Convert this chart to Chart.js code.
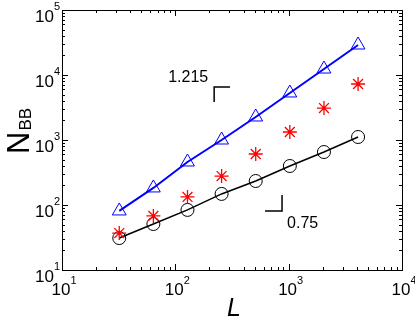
<!DOCTYPE html>
<html>
<head>
<meta charset="utf-8">
<script src="https://cdn.jsdelivr.net/npm/chart.js@4"></script>
<style>
  body { margin: 0; background: #fff; }
  #chart { display: block; }
</style>
</head>
<body>
<canvas id="chart" width="415" height="317"></canvas>
<script>
// Data
const L = [32, 64, 128, 256, 512, 1024, 2048, 4096];
const nTriangle = [81, 183, 459, 1000, 2260, 5290, 12360, 28950];
const nStar = [37, 68, 133, 279, 609, 1327, 3100, 7270];
const nCircle = [31, 51, 84, 148, 234, 398, 653, 1112];

const xDecades = [1, 2, 3, 4];
const yDecades = [1, 2, 3, 4, 5];

// slope guides (data coords)
const slopeUpX = [220, 220, 304];
const slopeUpY = [3840, 6530, 6530];
const slopeLowX = [619, 874, 874];
const slopeLowY = [81, 81, 143];
const slopeTexts = ['1.215', '0.75'];
const slopeTextX = [195, 968];
const slopeTextY = [9000, 51];

const FONT = "'Liberation Sans', Arial, sans-serif";

function pts(xs, ys) {
    return xs.map((x, i) => ({ x: x, y: ys[i] }));
}

// axes box, inward ticks, labels
const axesPlugin = {
    id: 'axesPlugin',
    afterDraw(chart) {
        const ctx = chart.ctx;
        const a = chart.chartArea;
        const xs = chart.scales.x, ys = chart.scales.y;
        ctx.save();
        ctx.strokeStyle = '#000';
        ctx.lineWidth = 1;
        ctx.strokeRect(a.left + 0.5, a.top + 0.5, a.right - a.left, a.bottom - a.top);

        ctx.beginPath();
        for (let d = xDecades[0]; d <= xDecades[xDecades.length - 1]; d++) {
            for (let m = 1; m <= 9; m++) {
                if (d === xDecades[xDecades.length - 1] && m > 1) break;
                const v = m * Math.pow(10, d);
                const px = Math.round(xs.getPixelForValue(v)) + 0.5;
                const len = m === 1 ? 6 : 3;
                ctx.moveTo(px, a.bottom); ctx.lineTo(px, a.bottom - len);
                ctx.moveTo(px, a.top); ctx.lineTo(px, a.top + len);
            }
        }
        for (let d = yDecades[0]; d <= yDecades[yDecades.length - 1]; d++) {
            for (let m = 1; m <= 9; m++) {
                if (d === yDecades[yDecades.length - 1] && m > 1) break;
                const v = m * Math.pow(10, d);
                const py = Math.round(ys.getPixelForValue(v)) + 0.5;
                const len = m === 1 ? 6 : 3;
                ctx.moveTo(a.left, py); ctx.lineTo(a.left + len, py);
                ctx.moveTo(a.right, py); ctx.lineTo(a.right - len, py);
            }
        }
        ctx.stroke();

        ctx.fillStyle = '#000';
        ctx.textBaseline = 'alphabetic';
        // x tick labels
        xDecades.forEach(d => {
            const px = xs.getPixelForValue(Math.pow(10, d));
            ctx.font = '17px ' + FONT;
            const w1 = ctx.measureText('10').width;
            ctx.font = '11px ' + FONT;
            const w2 = ctx.measureText(String(d)).width;
            const x0 = px - (w1 + w2) / 2 + 2;
            ctx.textAlign = 'left';
            ctx.font = '17px ' + FONT;
            ctx.fillText('10', x0, a.bottom + 25);
            ctx.font = '11px ' + FONT;
            ctx.fillText(String(d), x0 + w1, a.bottom + 14);
        });
        // y tick labels
        yDecades.forEach(d => {
            const py = ys.getPixelForValue(Math.pow(10, d));
            ctx.font = '11px ' + FONT;
            const w2 = ctx.measureText(String(d)).width;
            ctx.textAlign = 'right';
            ctx.fillText(String(d), a.left - 2, py);
            ctx.font = '17px ' + FONT;
            ctx.fillText('10', a.left - 2 - w2, py + 12);
        });

        // axis titles
        ctx.textAlign = 'center';
        ctx.font = 'italic 25px ' + FONT;
        ctx.fillText('L', (a.left + a.right) / 2 + 2, a.bottom + 46);

        ctx.save();
        ctx.translate(29, (a.top + a.bottom) / 2 + 14);
        ctx.rotate(-Math.PI / 2);
        ctx.textAlign = 'left';
        ctx.font = '31px ' + FONT;
        ctx.fillText('N', 0, 0);
        const wN = ctx.measureText('N').width;
        ctx.font = '17px ' + FONT;
        ctx.fillText('BB', wN + 1, 2);
        ctx.restore();

        // slope texts
        ctx.font = '16px ' + FONT;
        ctx.textBaseline = 'middle';
        slopeTexts.forEach((t, i) => {
            ctx.textAlign = i === 0 ? 'right' : 'left';
            ctx.fillText(t, xs.getPixelForValue(slopeTextX[i]), ys.getPixelForValue(slopeTextY[i]));
        });
        ctx.restore();
    }
};

const ctx = document.getElementById('chart').getContext('2d');
new Chart(ctx, {
    type: 'scatter',
    data: {
        datasets: [
            {
                data: pts(L, nTriangle), showLine: true,
                borderColor: '#0000ff', borderWidth: 2,
                pointStyle: 'triangle', pointRadius: 8,
                pointBorderColor: '#0000ff', pointBackgroundColor: 'rgba(0,0,0,0)', pointBorderWidth: 1
            },
            {
                data: pts(L, nStar), showLine: false,
                pointStyle: 'star', pointRadius: 7,
                pointBorderColor: '#ff0000', pointBackgroundColor: 'rgba(0,0,0,0)', pointBorderWidth: 1.3
            },
            {
                data: pts(L, nCircle), showLine: true,
                borderColor: '#000', borderWidth: 1.5,
                pointStyle: 'circle', pointRadius: 6.5,
                pointBorderColor: '#000', pointBackgroundColor: 'rgba(0,0,0,0)', pointBorderWidth: 1
            },
            {
                data: pts(slopeUpX, slopeUpY), showLine: true,
                borderColor: '#000', borderWidth: 1.5, pointRadius: 0
            },
            {
                data: pts(slopeLowX, slopeLowY), showLine: true,
                borderColor: '#000', borderWidth: 1.5, pointRadius: 0
            }
        ]
    },
    options: {
        responsive: false,
        animation: false,
        layout: { padding: { left: 62, right: 13, top: 10, bottom: 47 } },
        plugins: { legend: { display: false }, tooltip: { enabled: false } },
        scales: {
            x: { type: 'logarithmic', min: 10, max: 10000, display: false },
            y: { type: 'logarithmic', min: 10, max: 100000, display: false }
        }
    },
    plugins: [axesPlugin]
});
</script>
</body>
</html>
